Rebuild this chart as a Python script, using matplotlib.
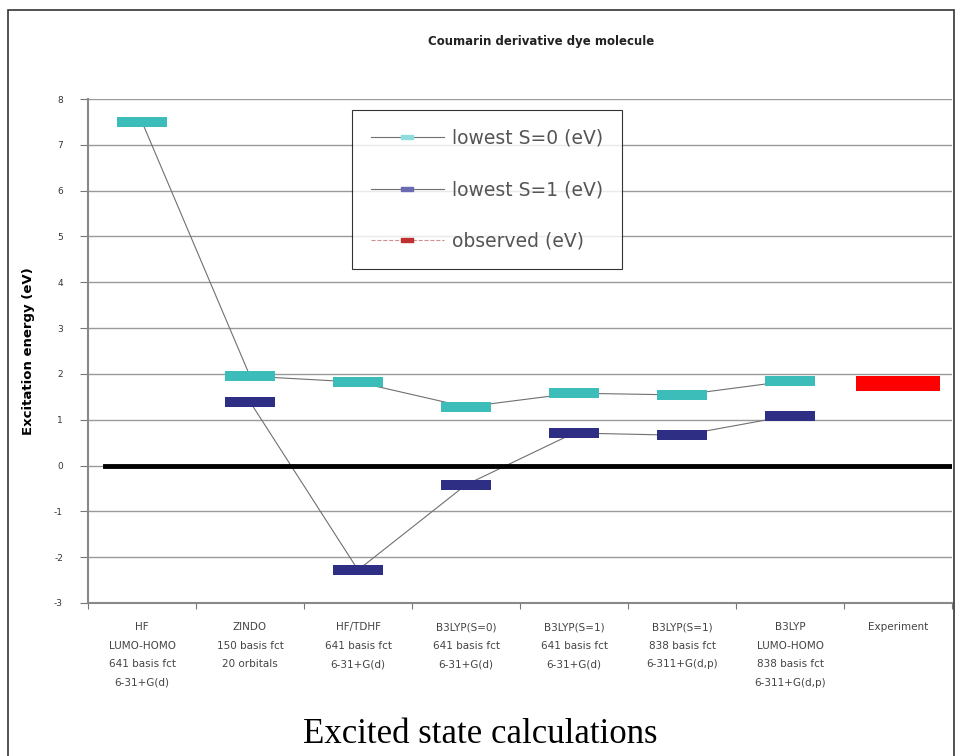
import numpy as np
import matplotlib
matplotlib.use("Agg")
import matplotlib.pyplot as plt
from matplotlib.lines import Line2D
from matplotlib.patches import Rectangle

# category labels (x axis)
categories = [
    "HF\nLUMO-HOMO\n641 basis fct\n6-31+G(d)",
    "ZINDO\n150 basis fct\n20 orbitals",
    "HF/TDHF\n641 basis fct\n6-31+G(d)",
    "B3LYP(S=0)\n641 basis fct\n6-31+G(d)",
    "B3LYP(S=1)\n641 basis fct\n6-31+G(d)",
    "B3LYP(S=1)\n838 basis fct\n6-311+G(d,p)",
    "B3LYP\nLUMO-HOMO\n838 basis fct\n6-311+G(d,p)",
    "Experiment",
]

# excitation energies in eV (nan = no value)
s0_values = [7.5, 1.95, 1.82, 1.28, 1.58, 1.54, 1.85, np.nan]
s1_values = [np.nan, 1.39, -2.28, -0.42, 0.71, 0.66, 1.09, np.nan]
observed_values = [np.nan, np.nan, np.nan, np.nan, np.nan, np.nan, np.nan, 1.8]

yticks = list(range(-3, 9))

teal = "#3dbdb9"
navy = "#2e2e85"
red = "#ff0000"
line_gray = "#707070"

fig = plt.figure(figsize=(9.6, 7.56), dpi=100)
ax = fig.add_axes([0.0917, 0.2024, 0.9000, 0.6666])

x = np.arange(len(categories))
s0 = np.array(s0_values)
s1 = np.array(s1_values)
obs = np.array(observed_values)

# connecting lines (behind the level markers)
m0 = ~np.isnan(s0)
m1 = ~np.isnan(s1)
ax.plot(x[m0], s0[m0], color=line_gray, lw=0.8, zorder=2)
ax.plot(x[m1], s1[m1], color=line_gray, lw=0.8, zorder=2)

# level markers drawn as flat bars
h = 0.22
ax.bar(x[m0], h, bottom=s0[m0] - h / 2, width=0.46, color=teal, zorder=3)
ax.bar(x[m1], h, bottom=s1[m1] - h / 2, width=0.46, color=navy, zorder=3)
mo = ~np.isnan(obs)
ax.bar(x[mo], 0.33, bottom=obs[mo] - 0.165, width=0.77, color=red, zorder=3)

# thick zero line
ax.plot([-0.34, 7.5], [0, 0], color="black", lw=3.5, zorder=2.5)

ax.set_xlim(-0.5, 7.5)
ax.set_ylim(-3, 8)
ax.set_yticks(yticks)
ax.set_yticklabels([str(t) for t in yticks], fontsize=6.5, color="#333333")
ax.yaxis.grid(True, color="#9a9a9a", lw=1.0)
ax.set_axisbelow(True)

ax.set_xticks(np.arange(-0.5, 8.0, 1.0))
ax.set_xticklabels([])
ax.set_xticks(x, minor=True)
ax.set_xticklabels(categories, minor=True, fontsize=7.5, color="#444444",
                   linespacing=2.05, va="top", ha="center", multialignment="center")
ax.tick_params(axis="x", which="minor", length=0, pad=14)
ax.tick_params(axis="x", which="major", length=4, direction="out", color="#777777")
ax.tick_params(axis="y", length=6, direction="out", color="#777777", pad=12)

for side in ["top", "right"]:
    ax.spines[side].set_visible(False)
ax.spines["left"].set_color("#888888")
ax.spines["bottom"].set_color("#888888")
ax.spines["left"].set_linewidth(1.5)
ax.spines["bottom"].set_linewidth(1.5)

ax.set_ylabel("Excitation energy (eV)", fontsize=9.5, fontweight="bold", labelpad=14)
fig.text(541 / 960, 1 - 42 / 756, "Coumarin derivative dye molecule", ha="center", va="center",
         fontsize=8.5, fontweight="bold", color="#222222")

rect_marker = [(-1, -0.25), (1, -0.25), (1, 0.25), (-1, 0.25), (-1, -0.25)]
handles = [
    Line2D([], [], color=line_gray, lw=0.8, marker=rect_marker, markersize=9,
           markerfacecolor="#8fdcdc", markeredgecolor="#8fdcdc"),
    Line2D([], [], color=line_gray, lw=0.8, marker=rect_marker, markersize=9,
           markerfacecolor="#6a6ab0", markeredgecolor="#6a6ab0"),
    Line2D([], [], color="#d09090", lw=0.8, ls="--", marker=rect_marker, markersize=9,
           markerfacecolor="#c03030", markeredgecolor="#c03030"),
]
labels = ["lowest S=0 (eV)", "lowest S=1 (eV)", "observed (eV)"]
leg = ax.legend(handles, labels, loc="upper left", bbox_to_anchor=(0.3056, 0.978),
                fontsize=13.5, frameon=True, fancybox=False, labelspacing=1.72,
                handlelength=3.9, borderpad=1.0, borderaxespad=0, handletextpad=0.45)
leg.get_frame().set_edgecolor("black")
leg.get_frame().set_linewidth(0.8)
for t in leg.get_texts():
    t.set_color("#555555")

# outer frame and bottom caption
fig.patches.append(Rectangle((8 / 960, -0.05), 946 / 960, 1.037, transform=fig.transFigure,
                             fill=False, edgecolor="#333333", lw=1.2))
fig.text(0.5, 0.028, "Excited state calculations", ha="center", va="center",
         fontsize=25, family="Liberation Serif")

fig.savefig("out.png", dpi=100)
